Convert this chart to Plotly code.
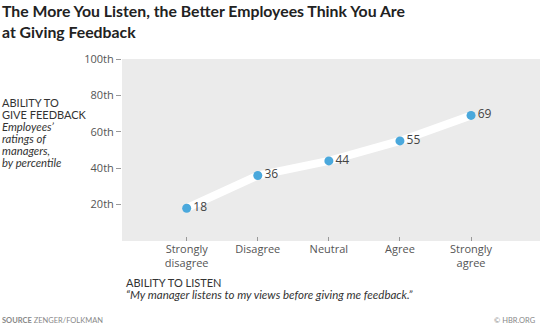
import plotly.graph_objects as go

categories = ["Strongly<br>disagree", "Disagree", "Neutral", "Agree", "Strongly<br>agree"]
values = [18, 36, 44, 55, 69]
y_tickvals = [20, 40, 60, 80, 100]
y_ticktext = ["20th", "40th", "60th", "80th", "100th"]

W, H = 540, 326
L, R, T, B = 122, 0, 59, 85
PW, PH = W - L - R, H - T - B

def px(x):
    return (x - L) / PW

def py(y):
    return (H - B - y) / PH

FONT = "Open Sans"
FONT2 = "Lato"
xs = list(range(len(categories)))

fig = go.Figure()
fig.add_trace(go.Scatter(
    x=xs, y=values, mode="lines",
    line=dict(color="white", width=8),
    hoverinfo="skip", showlegend=False,
))
fig.add_trace(go.Scatter(
    x=xs, y=values, mode="markers+text",
    marker=dict(color="#4aa8dc", size=9),
    text=[str(v) for v in values], textposition="middle right",
    textfont=dict(family=FONT, size=12, color="#444444"),
    showlegend=False,
))

fig.update_layout(
    width=W, height=H,
    margin=dict(l=L, r=R, t=T, b=B),
    paper_bgcolor="white", plot_bgcolor="#ebebeb",
    font=dict(family=FONT, color="#555555"),
    xaxis=dict(
        range=[-0.91, 4.97], tickvals=xs, ticktext=categories,
        ticks="inside", ticklen=4, tickcolor="#999999", tickwidth=1,
        showgrid=False, zeroline=False, showline=False,
        tickfont=dict(family=FONT, size=11, color="#555555"),
    ),
    yaxis=dict(
        range=[0, 100], tickvals=y_tickvals, ticktext=y_ticktext,
        ticks="outside", ticklen=5, tickcolor="#999999", tickwidth=1,
        showgrid=False, zeroline=False, showline=False,
        tickfont=dict(family=FONT, size=11, color="#555555"),
    ),
)

def note(text, x, y, size, color="#333333", xanchor="left", yanchor="middle"):
    fig.add_annotation(text=text, xref="paper", yref="paper", x=px(x), y=py(y),
                       xanchor=xanchor, yanchor=yanchor, showarrow=False, align="left",
                       font=dict(size=size, color=color, family=FONT2))

note("<b>The More You Listen, the Better Employees Think You Are<br>at Giving Feedback</b>",
     0, -1, 15.8, "#222222", yanchor="top")

left_lines = [("ABILITY TO", 102), ("GIVE FEEDBACK", 114)]
for t, y in left_lines:
    note(t, 0, y, 11)
left_italic = [("Employees’", 126), ("ratings of", 138.3), ("managers,", 150.6), ("by percentile", 162.9)]
for t, y in left_italic:
    note("<i>" + t + "</i>", 0, y, 11.3)

note("ABILITY TO LISTEN", 124, 282, 11)
note("<i>“My manager listens to my views before giving me feedback.”</i>", 124, 294, 11.5)

note("<b>SOURCE</b> ZENGER/FOLKMAN", 0, 320, 7.5, "#888888")
note("© HBR.ORG", 538, 320, 7.5, "#888888", xanchor="right")

fig.write_html("out.html")
